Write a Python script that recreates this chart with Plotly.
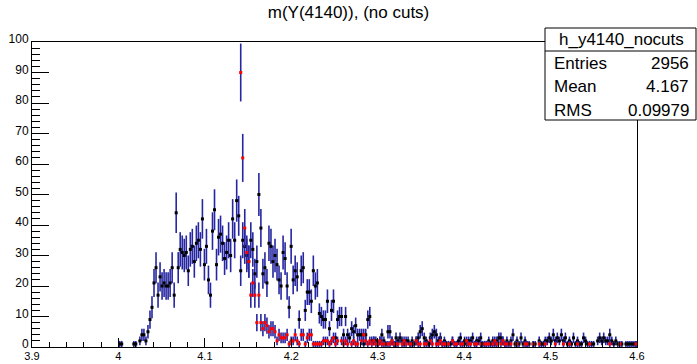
import numpy as np
import plotly.graph_objects as go

# Histogram definition
nbins = 300
xmin, xmax = 3.9, 4.6

# Black-marker histogram (bin contents, bins 0..299)
black_counts = (
    [0] * 43
    + [1, 1, 0, 0, 0, 0, 0, 1, 1, 0]                      # 43-52
    + [2, 4, 4, 2, 5, 9, 13, 21, 26, 17]                  # 53-62
    + [23, 20, 21, 20, 20, 21, 26, 17, 44, 26]            # 63-72
    + [32, 31, 30, 31, 25, 32, 33, 28, 34, 35]            # 73-82
    + [32, 42, 27, 33, 22, 17, 38, 45, 27, 36]            # 83-92
    + [37, 34, 29, 31, 35, 30, 42, 35, 48, 43]            # 93-102
    + [25, 35, 33, 30, 28, 35, 32, 24, 28, 50]            # 103-112
    + [39, 24, 26, 21, 34, 33, 28, 30, 27, 22]            # 113-122
    + [20, 31, 29, 20, 13, 33, 22, 25, 23, 9]             # 123-132
    + [25, 26, 12, 18, 18, 15, 25, 20, 21, 11]            # 133-142
    + [10, 9, 9, 15, 6, 12, 15, 3, 9, 10]                 # 143-152
    + [10, 4, 10, 4, 3, 6, 5, 7, 4, 4]                    # 153-162
    + [4, 1, 4, 9, 10, 2, 2, 2, 1, 2]                     # 163-172
    + [4, 2, 1, 5, 5, 2, 1, 3, 2, 3]                      # 173-182
    + [2, 1, 2, 2, 1, 2, 1, 2, 3, 5]                      # 183-192
    + [6, 3, 2, 1, 3, 4, 5, 4, 2, 3]                      # 193-202
    + [1, 2, 1, 0, 1, 2, 1, 1, 2, 3]                      # 203-212
    + [1, 2, 1, 2, 2, 3, 1, 2, 2, 3]                      # 213-222
    + [1, 1, 0, 2, 1, 2, 1, 2, 3, 3]                      # 223-232
    + [2, 1, 2, 1, 2, 4, 1, 2, 1, 3]                      # 233-242
    + [1, 2, 1, 1, 0, 1, 1, 0, 2, 1]                      # 243-252
    + [1, 2, 2, 3, 2, 4, 2, 3, 2, 4]                      # 253-262
    + [2, 3, 1, 2, 1, 3, 1, 2, 1, 1]                      # 263-272
    + [3, 2, 1, 0, 1, 1, 0, 2, 3, 2]                      # 273-282
    + [3, 2, 2, 4, 2, 1, 2, 1, 0, 1]                      # 283-292
    + [0, 1, 1, 1, 1, 1, 1]                               # 293-299
)

# Red-marker histogram (bin contents, bins 0..299)
red_counts = (
    [0] * 103
    + [90, 62, 39, 31, 28, 17, 21, 17, 8, 17]             # 103-112
    + [8, 6, 8, 7, 5, 6, 6, 5, 2, 4]                      # 113-122
    + [3, 3, 3, 4, 1, 2, 2, 4, 2, 1]                      # 123-132
    + [4, 4, 1, 3, 4, 4, 1, 1, 1, 1]                      # 133-142
    + [1, 2, 2, 2, 1, 2, 3, 1, 2, 0]                      # 143-152
    + [2, 1, 2, 1, 0, 1, 2, 1, 1, 0]                      # 153-162
    + [2, 4, 2, 1, 2, 1, 2, 1, 1, 2]                      # 163-172
    + [1, 1, 0, 1, 1, 2, 1, 1, 1, 0]                      # 173-182
    + [1, 2, 1, 0, 1, 1, 0, 2, 1, 1]                      # 183-192
    + [0, 1, 1, 0, 2, 1, 0, 1, 1, 2]                      # 193-202
    + [1, 1, 1, 1, 0, 2, 1, 1, 0, 1]                      # 203-212
    + [1, 0, 2, 1, 1, 0, 1, 1, 0, 1]                      # 213-222
    + [0, 1, 1, 1, 0, 1, 2, 1, 0, 1]                      # 223-232
    + [2, 1, 1, 0, 1, 0, 0, 1, 0, 0]                      # 233-242
    + [0, 1, 1, 0, 0, 1, 0, 0, 1, 0]                      # 243-252
    + [0, 1, 0, 0, 0, 0, 1, 0, 0, 0]                      # 253-262
    + [1, 0, 0, 1, 0, 0, 0, 1, 0, 0]                      # 263-272
    + [0, 0, 0, 1, 0, 0, 0, 0, 0, 0]                      # 273-282
    + [0, 0, 0, 1, 0, 0, 0, 0, 1, 0]                      # 283-292
    + [0, 0, 0, 0, 0, 0, 1]                               # 293-299
)

title_text = "m(Y(4140)), (no cuts)"
stats_name = "h_y4140_nocuts"
stats_rows = [("Entries", "2956"), ("Mean", "4.167"), ("RMS", "0.09979")]
x_ticks = [3.9, 4.0, 4.1, 4.2, 4.3, 4.4, 4.5, 4.6]
x_tick_labels = ["3.9", "4", "4.1", "4.2", "4.3", "4.4", "4.5", "4.6"]

bw = (xmax - xmin) / nbins
centers = xmin + bw * (np.arange(nbins) + 0.5)

FONT = "Liberation Sans, Arial, Helvetica, sans-serif"
ERRCOL = "#2626a0"

fig = go.Figure()


def add_hist(counts, mcolor):
    c = np.array(counts, dtype=float)
    m = c > 0
    fig.add_trace(go.Scatter(
        x=centers[m], y=c[m], mode="markers",
        marker=dict(color=mcolor, size=3, symbol="square"),
        error_y=dict(type="data", array=np.sqrt(c[m]), color=ERRCOL,
                     thickness=1.6, width=0),
        error_x=dict(type="constant", value=bw / 2, color=mcolor,
                     thickness=1, width=0),
        showlegend=False, hoverinfo="skip",
    ))


add_hist(black_counts, "black")
add_hist(red_counts, "red")

W, H = 697, 364
L, R, T, B = 32, 60, 42, 17
pw, ph = W - L - R, H - T - B


def px(xp):
    return (xp - L) / pw


def py(yp):
    return (H - B - yp) / ph


shapes = []
# stats box
shapes.append(dict(type="rect", xref="paper", yref="paper",
                   x0=px(545), x1=px(696), y0=py(120), y1=py(28),
                   fillcolor="white", line=dict(color="black", width=1),
                   layer="above"))
shapes.append(dict(type="line", xref="paper", yref="paper",
                   x0=px(545), x1=px(696), y0=py(51), y1=py(51),
                   line=dict(color="black", width=1), layer="above"))

annotations = []
annotations.append(dict(xref="paper", yref="paper", x=px(621), y=py(39.5),
                        text=stats_name, showarrow=False, xanchor="center",
                        yanchor="middle", font=dict(family=FONT, size=17, color="black")))
for k, (lab, val) in enumerate(stats_rows):
    yy = py(63 + 23.5 * k)
    annotations.append(dict(xref="paper", yref="paper", x=px(552), y=yy, text=lab,
                            showarrow=False, xanchor="left", yanchor="middle",
                            font=dict(family=FONT, size=17, color="black")))
    annotations.append(dict(xref="paper", yref="paper", x=px(691), y=yy, text=val,
                            showarrow=False, xanchor="right", yanchor="middle",
                            font=dict(family=FONT, size=17, color="black")))

fig.update_layout(
    width=W, height=H,
    margin=dict(l=L, r=R, t=T, b=B, pad=0, autoexpand=False),
    paper_bgcolor="white", plot_bgcolor="white",
    title=dict(text=title_text, x=0.5, xref="container", xanchor="center",
               y=1 - 12 / H, yref="container", yanchor="middle",
               font=dict(family=FONT, size=17, color="black")),
    shapes=shapes, annotations=annotations,
    xaxis=dict(range=[xmin, xmax], showgrid=False, zeroline=False,
               automargin=False,
               showline=True, linecolor="black", linewidth=1, mirror=True,
               ticks="inside", ticklen=9, tickcolor="black", tickwidth=1,
               tickvals=x_ticks, ticktext=x_tick_labels,
               ticklabelstandoff=-1,
               minor=dict(ticks="inside", ticklen=5, dtick=0.02,
                          tickcolor="black", tickwidth=1, showgrid=False),
               tickfont=dict(family=FONT, size=11, color="black")),
    yaxis=dict(range=[0, 100], showgrid=False, zeroline=False,
               automargin=False,
               showline=True, linecolor="black", linewidth=1, mirror=True,
               ticks="inside", ticklen=17, tickcolor="black", tickwidth=1,
               dtick=10, tick0=0, ticklabelshift=-3,
               minor=dict(ticks="inside", ticklen=8, dtick=2,
                          tickcolor="black", tickwidth=1, showgrid=False),
               tickfont=dict(family=FONT, size=12, color="black")),
)

fig.write_html("out.html")
